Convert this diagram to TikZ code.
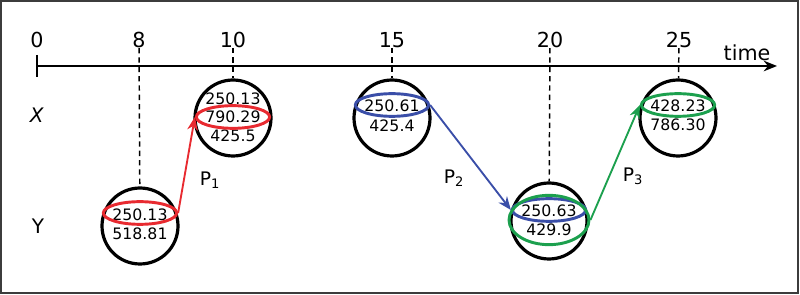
\documentclass[tikz,border=0pt]{standalone}
\usepackage{fontspec}
\setmainfont{DejaVu Sans}
\usetikzlibrary{shapes.geometric,arrows.meta}
\definecolor{pred}{RGB}{232,42,48}
\definecolor{pblue}{RGB}{58,78,168}
\definecolor{pgreen}{RGB}{28,160,78}
\definecolor{frame}{RGB}{60,60,60}

\begin{document}
\begin{tikzpicture}[x=0.75pt,y=-0.75pt,>={Stealth[length=10pt,width=8pt]},
  every node/.style={inner sep=0pt},
  tlabel/.style={font=\fontsize{15.5}{18}\selectfont},
  val/.style={font=\fontsize{11.8}{13}\selectfont},
  state/.style={circle,draw,line width=2.4pt,minimum size=57pt},
  pick/.style={ellipse,draw,line width=2.2pt,minimum width=55pt,minimum height=17pt},
  tlink/.style={->,line width=1.4pt},
  guide/.style={dashed,dash pattern=on 4pt off 3pt,line width=1.1pt}]

\useasboundingbox (0,0) rectangle (800,295);
\draw[line width=1.5pt,frame] (1,1) rectangle (798,293);

% time axis
\node[tlabel] (l0) at (37,40) {0};
\node[tlabel] (l8) at (139,40) {8};
\node[tlabel] (l10) at (233,40) {10};
\node[tlabel] (l15) at (392,40) {15};
\node[tlabel] (l20) at (550,40) {20};
\node[tlabel] (l25) at (679,40) {25};
\node[tlabel] (ltime) at (747,53) {time};
\coordinate (origin) at (37,66);
\coordinate (tend) at (777,66);
\draw[tlink] (origin) -- (tend);
\draw[line width=1.4pt] (37,55) -- (37,77);

% rows
\node[font=\fontsize{15}{18}\selectfont] (rx) at (37,115) {\textit{X}};
\node[font=\fontsize{15}{18}\selectfont] (ry) at (38,226) {Y};

% states
\node[state] (c8) at (140,226) {};
\node[state] (c10) at (233,118) {};
\node[state] (c15) at (392,118) {};
\node[state] (c20) at (549,221) {};
\node[state] (c25) at (678,118) {};

\draw[guide] (l8) -- (c8);
\draw[guide] (l10) -- (c10);
\draw[guide] (l15) -- (c15);
\draw[guide] (l20) -- (c20);
\draw[guide] (l25) -- (c25);

% values
\node[val] (v8a) at (140,215) {250.13};
\node[val] (v8b) at (140,234) {518.81};
\node[val] (v10a) at (233,99) {250.13};
\node[val] (v10b) at (233,117) {790.29};
\node[val] (v10c) at (233,136) {425.5};
\node[val] (v15a) at (392,106) {250.61};
\node[val] (v15b) at (392,126) {425.4};
\node[val] (v20a) at (549,211) {250.63};
\node[val] (v20b) at (549,230) {429.9};
\node[val] (v25a) at (678,106) {428.23};
\node[val] (v25b) at (678,125) {786.30};

% selections
\node[pick,draw=pred] (e8) at (140,213) {};
\node[pick,draw=pred] (e10) at (233,117) {};
\node[pick,draw=pblue] (e15) at (392,105) {};
\node[pick,draw=pblue] (e20) at (549,210) {};
\node[pick,draw=pgreen,minimum width=60pt,minimum height=37pt] (e20g) at (549,220) {};
\node[pick,draw=pgreen] (e25) at (678,105) {};

\draw[tlink,pred] (e8.east) -- (e10.west);
\draw[tlink,pblue] (e15.east) -- (e20.west);
\draw[tlink,pgreen] (e20g.east) -- (e25.west);

\node[font=\fontsize{14}{16}\selectfont] (p1) at (210,180) {P\textsubscript{1}};
\node[font=\fontsize{14}{16}\selectfont] (p2) at (454,178) {P\textsubscript{2}};
\node[font=\fontsize{14}{16}\selectfont] (p3) at (633,176) {P\textsubscript{3}};

\end{tikzpicture}
\end{document}
